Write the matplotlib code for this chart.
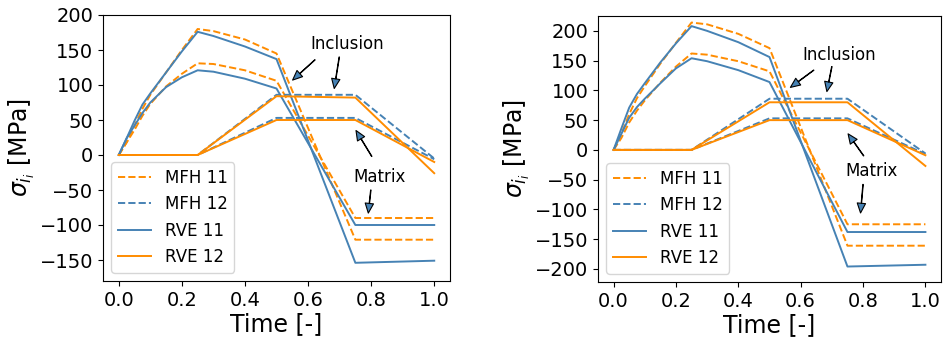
import matplotlib
matplotlib.use("Agg")
import matplotlib.pyplot as plt

# time grids
t11 = [0, 0.025, 0.05, 0.075, 0.1, 0.15, 0.2, 0.25, 0.3, 0.4, 0.5, 0.75, 1.0]
t12 = [0, 0.25, 0.5, 0.75, 1.0]

# left panel
L_rve_inc11 = [0, 24, 49, 72, 88, 118, 148, 176, 170, 155, 137, -154, -151]
L_mfh_inc11 = [0, 18, 42, 66, 86, 118, 150, 180, 177, 165, 145, -121, -121]
L_rve_mat11 = [0, 24, 42, 60, 75, 97, 111, 121, 119, 109, 95, -100, -100]
L_mfh_mat11 = [0, 18, 36, 56, 73, 98, 116, 131, 130, 121, 106, -90, -90]
L_rve_inc12 = [0, 0, 84, 82, -26]
L_mfh_inc12 = [0, 0, 86, 86, -5]
L_rve_mat12 = [0, 0, 50, 50, -10]
L_mfh_mat12 = [0, 0, 53, 53, -6]

# right panel
R_rve_inc11 = [0, 36, 71, 94, 112, 147, 179, 208, 200, 181, 156, -196, -193]
R_mfh_inc11 = [0, 27, 60, 87, 107, 145, 180, 214, 211, 195, 171, -161, -161]
R_rve_mat11 = [0, 27, 54, 72, 86, 112, 137, 154, 149, 134, 114, -138, -138]
R_mfh_mat11 = [0, 20, 46, 66, 83, 113, 140, 162, 160, 149, 132, -125, -125]
R_rve_inc12 = [0, 0, 80, 80, -27]
R_mfh_inc12 = [0, 0, 86, 86, -6]
R_rve_mat12 = [0, 0, 50, 50, -9]
R_mfh_mat12 = [0, 0, 53, 53, -7]

legend_labels = ["MFH 11", "MFH 12", "RVE 11", "RVE 12"]
x_ticks = [0.0, 0.2, 0.4, 0.6, 0.8, 1.0]
L_yticks = [-150, -100, -50, 0, 50, 100, 150, 200]
R_yticks = [-200, -150, -100, -50, 0, 50, 100, 150, 200]

ORANGE = "darkorange"
BLUE = "steelblue"

fig = plt.figure(figsize=(9.43, 3.38), dpi=100)
axL = fig.add_axes([103/943, 1-281/338, 347/943, 266/338])
axR = fig.add_axes([598/943, 1-282/338, 343/943, 266/338])

panels = [
    (axL, L_mfh_inc11, L_mfh_mat11, L_mfh_inc12, L_mfh_mat12,
     L_rve_inc11, L_rve_mat11, L_rve_inc12, L_rve_mat12, (-180, 200), L_yticks,
     dict(inc_text=(0.723, 158), a1=((0.622, 136), (0.551, 107)), a2=((0.699, 140), (0.683, 95)),
          mat_text=(0.826, -31), a3=((0.802, -2), (0.752, 35)), a4=((0.799, -50), (0.791, -83)))),
    (axR, R_mfh_inc11, R_mfh_mat11, R_mfh_inc12, R_mfh_mat12,
     R_rve_inc11, R_rve_mat11, R_rve_inc12, R_rve_mat12, (-222, 225), R_yticks,
     dict(inc_text=(0.722, 160), a1=((0.642, 134), (0.567, 105)), a2=((0.700, 140), (0.684, 98)),
          mat_text=(0.827, -36), a3=((0.802, -10), (0.752, 27)), a4=((0.800, -58), (0.792, -106)))),
]

for (ax, mi11, mm11, mi12, mm12, ri11, rm11, ri12, rm12, ylim, yt, ann) in panels:
    lw = 1.4
    h1, = ax.plot(t11, mi11, "--", color=ORANGE, lw=lw)
    ax.plot(t11, mm11, "--", color=ORANGE, lw=lw)
    h2, = ax.plot(t12, mi12, "--", color=BLUE, lw=lw)
    ax.plot(t12, mm12, "--", color=BLUE, lw=lw)
    h3, = ax.plot(t11, ri11, "-", color=BLUE, lw=lw)
    ax.plot(t11, rm11, "-", color=BLUE, lw=lw)
    h4, = ax.plot(t12, ri12, "-", color=ORANGE, lw=lw)
    ax.plot(t12, rm12, "-", color=ORANGE, lw=lw)
    ax.set_xlim(-0.05, 1.05)
    ax.set_ylim(*ylim)
    ax.set_xticks(x_ticks)
    ax.set_yticks(yt)
    ax.tick_params(labelsize=14)
    ax.set_xlabel("Time [-]", fontsize=17, labelpad=2)
    ax.set_ylabel(r"$\sigma_{i_i}$ [MPa]", fontsize=17, labelpad=2)
    ax.legend([h1, h2, h3, h4], legend_labels, loc="lower left", fontsize=12)

    ap = dict(facecolor=BLUE, edgecolor="black", width=0.3, headwidth=6, headlength=7, shrink=0, lw=0.8)
    ax.text(*ann["inc_text"], "Inclusion", fontsize=12, ha="center", va="center")
    ax.text(*ann["mat_text"], "Matrix", fontsize=12, ha="center", va="center")
    for k in ("a1", "a2", "a3", "a4"):
        tail, head = ann[k]
        ax.annotate("", xy=head, xytext=tail, arrowprops=ap)

fig.savefig("out.png", dpi=100)
